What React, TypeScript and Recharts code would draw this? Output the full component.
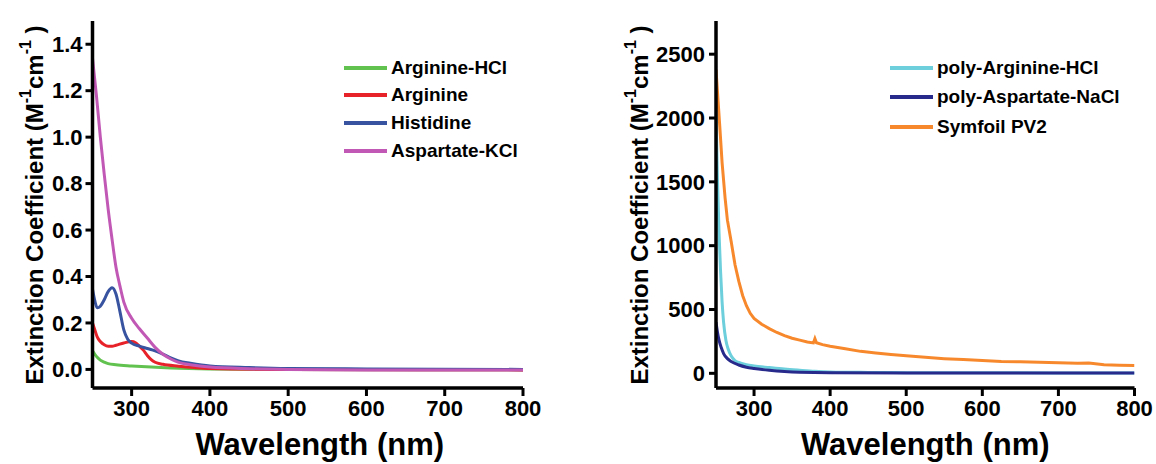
import React from "react";
import { Label, Line, LineChart, XAxis, YAxis } from "recharts";

type Pair = [number, number];

// wavelength (nm), extinction coefficient
const arginineHcl: Pair[] = [
  [250, 0.08], [253, 0.065], [256, 0.052], [260, 0.04], [265, 0.031], [270, 0.025],
  [280, 0.02], [300, 0.015], [325, 0.01], [350, 0.006], [400, 0.002], [500, 0.0], [800, -0.002],
];
const arginine: Pair[] = [
  [250, 0.2], [253, 0.17], [256, 0.14], [260, 0.12], [265, 0.106], [270, 0.1], [275, 0.1],
  [280, 0.104], [290, 0.114], [300, 0.12], [305, 0.115], [310, 0.1], [315, 0.083], [320, 0.06],
  [325, 0.042], [330, 0.031], [340, 0.022], [360, 0.014], [380, 0.008], [400, 0.004], [500, 0.0], [800, -0.002],
];
const histidine: Pair[] = [
  [250, 0.345], [253, 0.295], [256, 0.265], [260, 0.272], [265, 0.3], [270, 0.335], [275, 0.352],
  [280, 0.325], [285, 0.25], [290, 0.17], [295, 0.13], [300, 0.113], [310, 0.1], [320, 0.09],
  [330, 0.08], [340, 0.066], [350, 0.05], [360, 0.037], [375, 0.027], [400, 0.015], [450, 0.008],
  [500, 0.004], [600, 0.002], [800, 0.0],
];
const aspartateKcl: Pair[] = [
  [250, 1.34], [255, 1.18], [260, 1.0], [265, 0.84], [270, 0.69], [275, 0.56], [280, 0.44],
  [285, 0.36], [290, 0.29], [300, 0.22], [310, 0.175], [320, 0.135], [330, 0.095], [340, 0.065],
  [350, 0.045], [360, 0.03], [375, 0.02], [400, 0.01], [450, 0.003], [500, 0.0], [600, -0.002], [800, -0.002],
];

const polyArginineHcl: Pair[] = [
  [250, 2050], [252, 1500], [254, 1100], [256, 800], [258, 560], [260, 400], [263, 260],
  [266, 190], [270, 135], [275, 100], [280, 85], [290, 68], [300, 58], [320, 45], [340, 33],
  [360, 24], [380, 16], [400, 11], [450, 7], [500, 5], [600, 4], [800, 3],
];
const polyAspartateNaCl: Pair[] = [
  [250, 400], [252, 320], [254, 260], [257, 200], [260, 155], [265, 115], [270, 92], [280, 65],
  [290, 48], [300, 38], [320, 24], [340, 14], [360, 8], [400, 4], [500, 3], [800, 3],
];
const symfoilPv2: Pair[] = [
  [250, 2380], [252, 2200], [255, 1930], [258, 1650], [262, 1370], [265, 1200], [270, 1030],
  [275, 850], [280, 720], [285, 610], [290, 530], [295, 470], [300, 430], [310, 385], [320, 350],
  [330, 320], [340, 295], [350, 275], [360, 260], [370, 245], [378, 238], [380, 272], [382, 240],
  [390, 225], [400, 212], [420, 192], [440, 172], [460, 160], [480, 148], [500, 137], [525, 125],
  [550, 115], [575, 108], [600, 100], [625, 93], [650, 90], [675, 87], [700, 82], [725, 78],
  [740, 80], [760, 68], [780, 64], [800, 62],
];

const xTicks = [300, 400, 500, 600, 700, 800];
const leftTicks = [0, 0.2, 0.4, 0.6, 0.8, 1.0, 1.2, 1.4];
const rightTicks = [0, 500, 1000, 1500, 2000, 2500];

const leftSeries = [
  { name: "Arginine-HCl", data: arginineHcl, color: "#62c24f" },
  { name: "Arginine", data: arginine, color: "#e82229" },
  { name: "Histidine", data: histidine, color: "#3853a0" },
  { name: "Aspartate-KCl", data: aspartateKcl, color: "#c258b6" },
];
const rightSeries = [
  { name: "poly-Arginine-HCl", data: polyArginineHcl, color: "#6dcfdc", curve: "monotone" },
  { name: "poly-Aspartate-NaCl", data: polyAspartateNaCl, color: "#27298b", curve: "monotone" },
  { name: "Symfoil PV2", data: symfoilPv2, color: "#f7892c", curve: "linear" },
];

const toPoints = (p: Pair[]) => p.map(([nm, ext]) => ({ nm, ext }));

const FONT = "'Liberation Sans', Arial, sans-serif";
const tickStyle = { fill: "#000", fontSize: 22, fontWeight: 700, fontFamily: FONT };
const axisLine = { stroke: "#000", strokeWidth: 3.5 };
const tickLine = { stroke: "#000", strokeWidth: 3 };

function YTitle({ cx }: any) {
  const cy = 205;
  return (
    <text
      x={cx}
      y={cy}
      transform={`rotate(-90 ${cx} ${cy})`}
      textAnchor="middle"
      dominantBaseline="central"
      fontFamily={FONT}
      fontWeight={700}
      fontSize={24}
      fill="#000"
    >
      Extinction Coefficient (M
      <tspan dy={-9} fontSize={16}>-1</tspan>
      <tspan dy={9}>cm</tspan>
      <tspan dy={-9} fontSize={16}>-1</tspan>
      <tspan dy={9}> )</tspan>
    </text>
  );
}

function LegendBox({ items, left, top, gap }: any) {
  return (
    <div style={{ position: "absolute", left, top, fontFamily: FONT, fontWeight: 700, fontSize: 19, color: "#000" }}>
      {items.map((s: any) => (
        <div key={s.name} style={{ display: "flex", alignItems: "center", height: gap }}>
          <svg width={43} height={6} style={{ marginRight: 4 }}>
            <line x1={0} x2={43} y1={3} y2={3} stroke={s.color} strokeWidth={4} />
          </svg>
          <span>{s.name}</span>
        </div>
      ))}
    </div>
  );
}

export default function App() {
  return (
    <div style={{ position: "absolute", left: 0, top: 0, width: 1156, height: 464, background: "#fff", display: "flex" }}>
      <LineChart width={578} height={464} margin={{ top: 21, right: 55, bottom: 0, left: 0 }}>
        <XAxis
          type="number"
          dataKey="nm"
          domain={[250, 800]}
          ticks={xTicks}
          height={76}
          axisLine={axisLine}
          tickLine={tickLine}
          tickSize={8}
          tickMargin={4}
          tick={tickStyle}
          allowDataOverflow
        >
          <Label
            value="Wavelength (nm)"
            position="insideBottom"
            offset={9}
            dx={12}
            style={{ fontFamily: FONT, fontWeight: 700, fontSize: 31, fill: "#000" }}
          />
        </XAxis>
        <YAxis
          type="number"
          dataKey="ext"
          domain={[-0.08, 1.5]}
          ticks={leftTicks}
          width={92.5}
          axisLine={axisLine}
          tickLine={tickLine}
          tickSize={7}
          tickMargin={3}
          tick={tickStyle}
          tickFormatter={(v: number) => v.toFixed(1)}
          allowDataOverflow
        >
          <Label content={<YTitle cx={34} />} />
        </YAxis>
        {leftSeries.map((s) => (
          <Line
            key={s.name}
            data={toPoints(s.data)}
            dataKey="ext"
            name={s.name}
            stroke={s.color}
            strokeWidth={3}
            type="monotone"
            dot={false}
            activeDot={false}
            isAnimationActive={false}
          />
        ))}
      </LineChart>
      <LineChart width={578} height={464} margin={{ top: 21, right: 21.5, bottom: 0, left: 0 }}>
        <XAxis
          type="number"
          dataKey="nm"
          domain={[250, 800]}
          ticks={xTicks}
          height={76}
          axisLine={axisLine}
          tickLine={tickLine}
          tickSize={8}
          tickMargin={4}
          tick={tickStyle}
          allowDataOverflow
        >
          <Label
            value="Wavelength (nm)"
            position="insideBottom"
            offset={9}
            style={{ fontFamily: FONT, fontWeight: 700, fontSize: 31, fill: "#000" }}
          />
        </XAxis>
        <YAxis
          type="number"
          dataKey="ext"
          domain={[-115, 2760]}
          ticks={rightTicks}
          width={138}
          axisLine={axisLine}
          tickLine={tickLine}
          tickSize={7}
          tickMargin={4}
          tick={tickStyle}
          allowDataOverflow
        >
          <Label content={<YTitle cx={61} />} />
        </YAxis>
        {rightSeries.map((s) => (
          <Line
            key={s.name}
            data={toPoints(s.data)}
            dataKey="ext"
            name={s.name}
            stroke={s.color}
            strokeWidth={3}
            type={s.curve as any}
            dot={false}
            activeDot={false}
            isAnimationActive={false}
          />
        ))}
      </LineChart>
      <LegendBox items={leftSeries} left={344} top={54} gap={27.6} />
      <LegendBox items={rightSeries} left={890} top={53} gap={29.5} />
    </div>
  );
}
